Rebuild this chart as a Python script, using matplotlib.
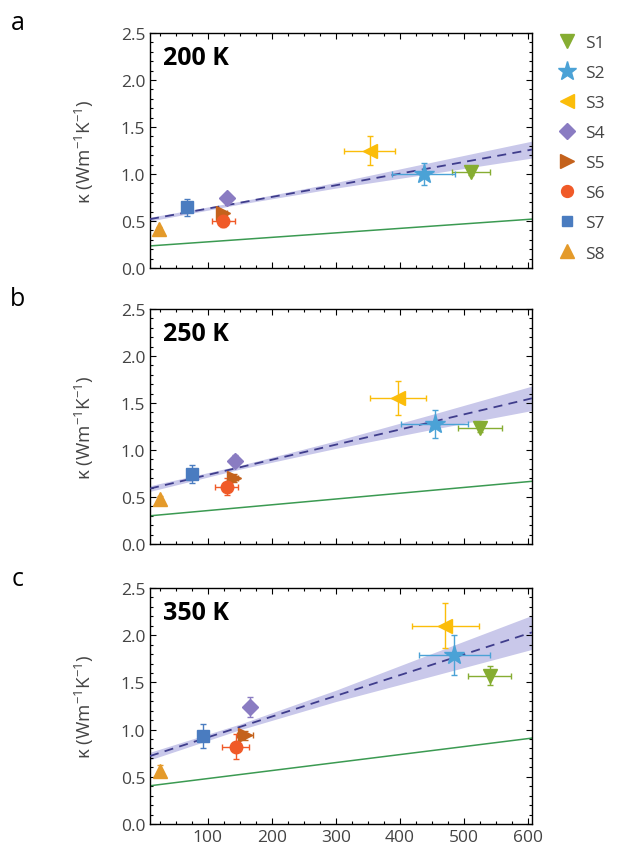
import matplotlib.pyplot as plt
import numpy as np
from matplotlib.lines import Line2D

plt.rcParams['font.family'] = ['Open Sans', 'DejaVu Sans']
plt.rcParams['mathtext.fontset'] = 'custom'
plt.rcParams['mathtext.rm'] = 'Open Sans'
plt.rcParams['mathtext.it'] = 'Open Sans'

# samples
names = ['S1', 'S2', 'S3', 'S4', 'S5', 'S6', 'S7', 'S8']
markers = ['v', '*', '<', 'D', '>', 'o', 's', '^']
msizes = [10, 15, 10, 8.5, 10, 9, 8, 10]
colors = ['#86ad32', '#4ba2d6', '#fbbd0a', '#8a7cc2', '#c4621c',
          '#f05a28', '#4a7cc0', '#e49a2a']

temps = ['200 K', '250 K', '350 K']
letters = ['a', 'b', 'c']

# x values / errors per temperature
xs = [[511, 437, 353, 130, 124, 124, 67, 24],
      [525, 454, 397, 142, 141, 130, 76, 25],
      [540, 485, 471, 166, 158, 144, 92, 26]]
xerrs = [[30, 49, 40, 0, 6, 18, 0, 0],
         [34, 52, 44, 0, 6, 18, 0, 0],
         [34, 56, 53, 0, 12, 21, 0, 0]]
ys = [[1.02, 1.00, 1.25, 0.74, 0.58, 0.50, 0.645, 0.41],
      [1.23, 1.28, 1.55, 0.886, 0.70, 0.61, 0.745, 0.48],
      [1.57, 1.79, 2.10, 1.24, 0.94, 0.82, 0.93, 0.56]]
yerrs = [[0.03, 0.12, 0.15, 0.04, 0.03, 0.06, 0.09, 0.03],
         [0.04, 0.15, 0.18, 0.06, 0.04, 0.09, 0.10, 0.03],
         [0.10, 0.21, 0.24, 0.11, 0.05, 0.13, 0.125, 0.06]]

# fitted line (dashed) and model line (green): values at x=10 and x=606
line_x = [10, 606]
fit_y = [[0.52, 1.26], [0.59, 1.55], [0.72, 2.03]]
model_y = [[0.235, 0.52], [0.30, 0.667], [0.405, 0.91]]

# confidence band half widths
band_x = [10, 150, 300, 450, 606]
band_half = [[0.02, 0.015, 0.03, 0.06, 0.09],
             [0.03, 0.02, 0.04, 0.08, 0.13],
             [0.04, 0.03, 0.06, 0.12, 0.18]]

fig = plt.figure(figsize=(6.29, 8.53), dpi=100)
tops = [34, 310, 589]
bottoms = [269, 545, 825]
W, H = 629, 853

for i in range(3):
    ax = fig.add_axes([150 / W, 1 - bottoms[i] / H, 382 / W,
                       (bottoms[i] - tops[i]) / H])
    fx = np.array(line_x)
    bx = np.array(band_x)
    fit_at_b = np.interp(bx, fx, fit_y[i])
    half = np.array(band_half[i])
    ax.fill_between(bx, fit_at_b - half, fit_at_b + half, color='#c3c2e8',
                    alpha=0.9, lw=0, zorder=1)
    ax.plot(fx, model_y[i], color='#3b9a52', lw=1.1, zorder=2)
    ax.plot(fx, fit_y[i], color='#3f3d8c', lw=1.3, ls=(0, (5, 3.5)), zorder=3)
    for j in range(8):
        ax.errorbar(xs[i][j], ys[i][j], xerr=xerrs[i][j] or None,
                    yerr=yerrs[i][j], fmt=markers[j], color=colors[j],
                    ms=msizes[j], elinewidth=1, capsize=2, capthick=1,
                    zorder=4)
    ax.set_xlim(10, 606)
    ax.set_ylim(0, 2.5)
    ax.set_xticks([100, 200, 300, 400, 500, 600])
    ax.set_xticks(np.arange(25, 606, 25), minor=True)
    ax.set_yticks([0, 0.5, 1.0, 1.5, 2.0, 2.5])
    ax.set_yticks(np.arange(0, 2.51, 0.1), minor=True)
    ax.yaxis.set_major_formatter(plt.FormatStrFormatter('%.1f'))
    ax.tick_params(which='both', direction='in', top=True, right=True,
                   labelsize=12.5, labelcolor='#444444', width=0.8)
    ax.tick_params(which='major', length=4)
    ax.tick_params(which='minor', length=2.5)
    if i < 2:
        ax.tick_params(axis='x', labelbottom=False)
    for s in ax.spines.values():
        s.set_linewidth(1)
    ax.text(0.035, 0.895, temps[i], transform=ax.transAxes, fontsize=18,
            fontweight='bold', va='center', ha='left')
    ax.set_ylabel(r'κ (Wm$^{-1}$K$^{-1}$)', fontsize=13.5, color='#444444',
                  labelpad=18)
    fig.text(18 / W, 1 - (tops[i] - 10) / H, letters[i], fontsize=18,
             ha='center', va='center')

handles = [Line2D([], [], ls='none', marker=markers[j], color=colors[j],
                  ms=msizes[j] * 0.95) for j in range(8)]
fig.legend(handles, names, loc='upper left', bbox_to_anchor=(0.86, 0.976),
           frameon=False, fontsize=12.5, labelspacing=0.8, handletextpad=0.45,
           handlelength=1.2, labelcolor='#444444')

fig.savefig('out.png', dpi=100)
